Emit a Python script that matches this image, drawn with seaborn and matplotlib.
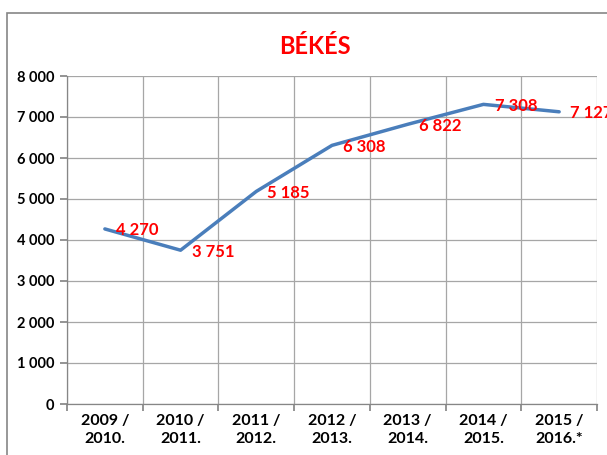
import matplotlib
matplotlib.use("Agg")
import matplotlib.pyplot as plt
import seaborn as sns
import pandas as pd
import numpy as np
from matplotlib.patches import Rectangle
from matplotlib.ticker import FuncFormatter, FixedLocator

categories = ["2009 /\n2010.", "2010 /\n2011.", "2011 /\n2012.", "2012 /\n2013.",
              "2013 /\n2014.", "2014 /\n2015.", "2015 /\n2016.*"]
values = [4270, 3751, 5185, 6308, 6822, 7308, 7127]
title = "BÉKÉS"
y_ticks = [0, 1000, 2000, 3000, 4000, 5000, 6000, 7000, 8000]

sns.set_theme(style="white")
plt.rcParams['font.family'] = ['Lato', 'DejaVu Sans']

df = pd.DataFrame({"pos": np.arange(len(categories)), "value": values})

fig = plt.figure(figsize=(6.07, 4.55), dpi=100)
ax = fig.add_axes([67/607, 1-404/455, (597-67)/607, (404-76)/455])

sns.lineplot(data=df, x="pos", y="value", ax=ax, color="#4A7EBB", linewidth=2.5)

ax.set_xlim(-0.5, len(categories) - 0.5)
ax.set_ylim(0, 8000)
ax.yaxis.set_major_locator(FixedLocator(y_ticks))
ax.yaxis.set_major_formatter(FuncFormatter(lambda v, p: f"{int(v):,}".replace(",", " ")))
ax.xaxis.set_major_locator(FixedLocator(np.arange(len(categories) + 1) - 0.5))
ax.xaxis.set_major_formatter(FuncFormatter(lambda v, p: ""))
ax.xaxis.set_minor_locator(FixedLocator(np.arange(len(categories))))
ax.set_xticklabels(categories, minor=True)

ax.grid(True, which="major", color="#A6A6A6", linewidth=0.9)
ax.set_axisbelow(True)
for side in ["top", "right"]:
    ax.spines[side].set_visible(False)
for side in ["left", "bottom"]:
    ax.spines[side].set_color("#868686")
    ax.spines[side].set_linewidth(0.9)

ax.tick_params(axis="y", which="major", length=5, color="#868686", labelsize=10.5, pad=4, left=True)
ax.tick_params(axis="x", which="major", length=5, color="#868686", bottom=True)
ax.tick_params(axis="x", which="minor", length=0, labelsize=11.5, pad=7)
for lbl in ax.get_yticklabels():
    lbl.set_fontweight("bold")
    lbl.set_color("black")
for lbl in ax.get_xticklabels(minor=True):
    lbl.set_fontweight("bold")
    lbl.set_color("black")
    lbl.set_linespacing(1.35)

ax.set_xlabel("")
ax.set_ylabel("")

for i, v in enumerate(values):
    ax.annotate(f"{v:,}".replace(",", " "), (i, v), xytext=(8, -1), textcoords="offset points",
                ha="left", va="center", color="#FF0000", fontsize=12, fontweight="bold")

fig.text(315/607, 1 - 46/455, title, ha="center", va="center", color="#FF0000",
         fontsize=17, fontweight="bold")

fig.patches.append(Rectangle((7/607, -0.1), 1.2, 1 - 13/455 + 0.1, transform=fig.transFigure,
                             fill=False, edgecolor="#868686", linewidth=1.2))

fig.savefig("out.png", dpi=100, facecolor="white")
